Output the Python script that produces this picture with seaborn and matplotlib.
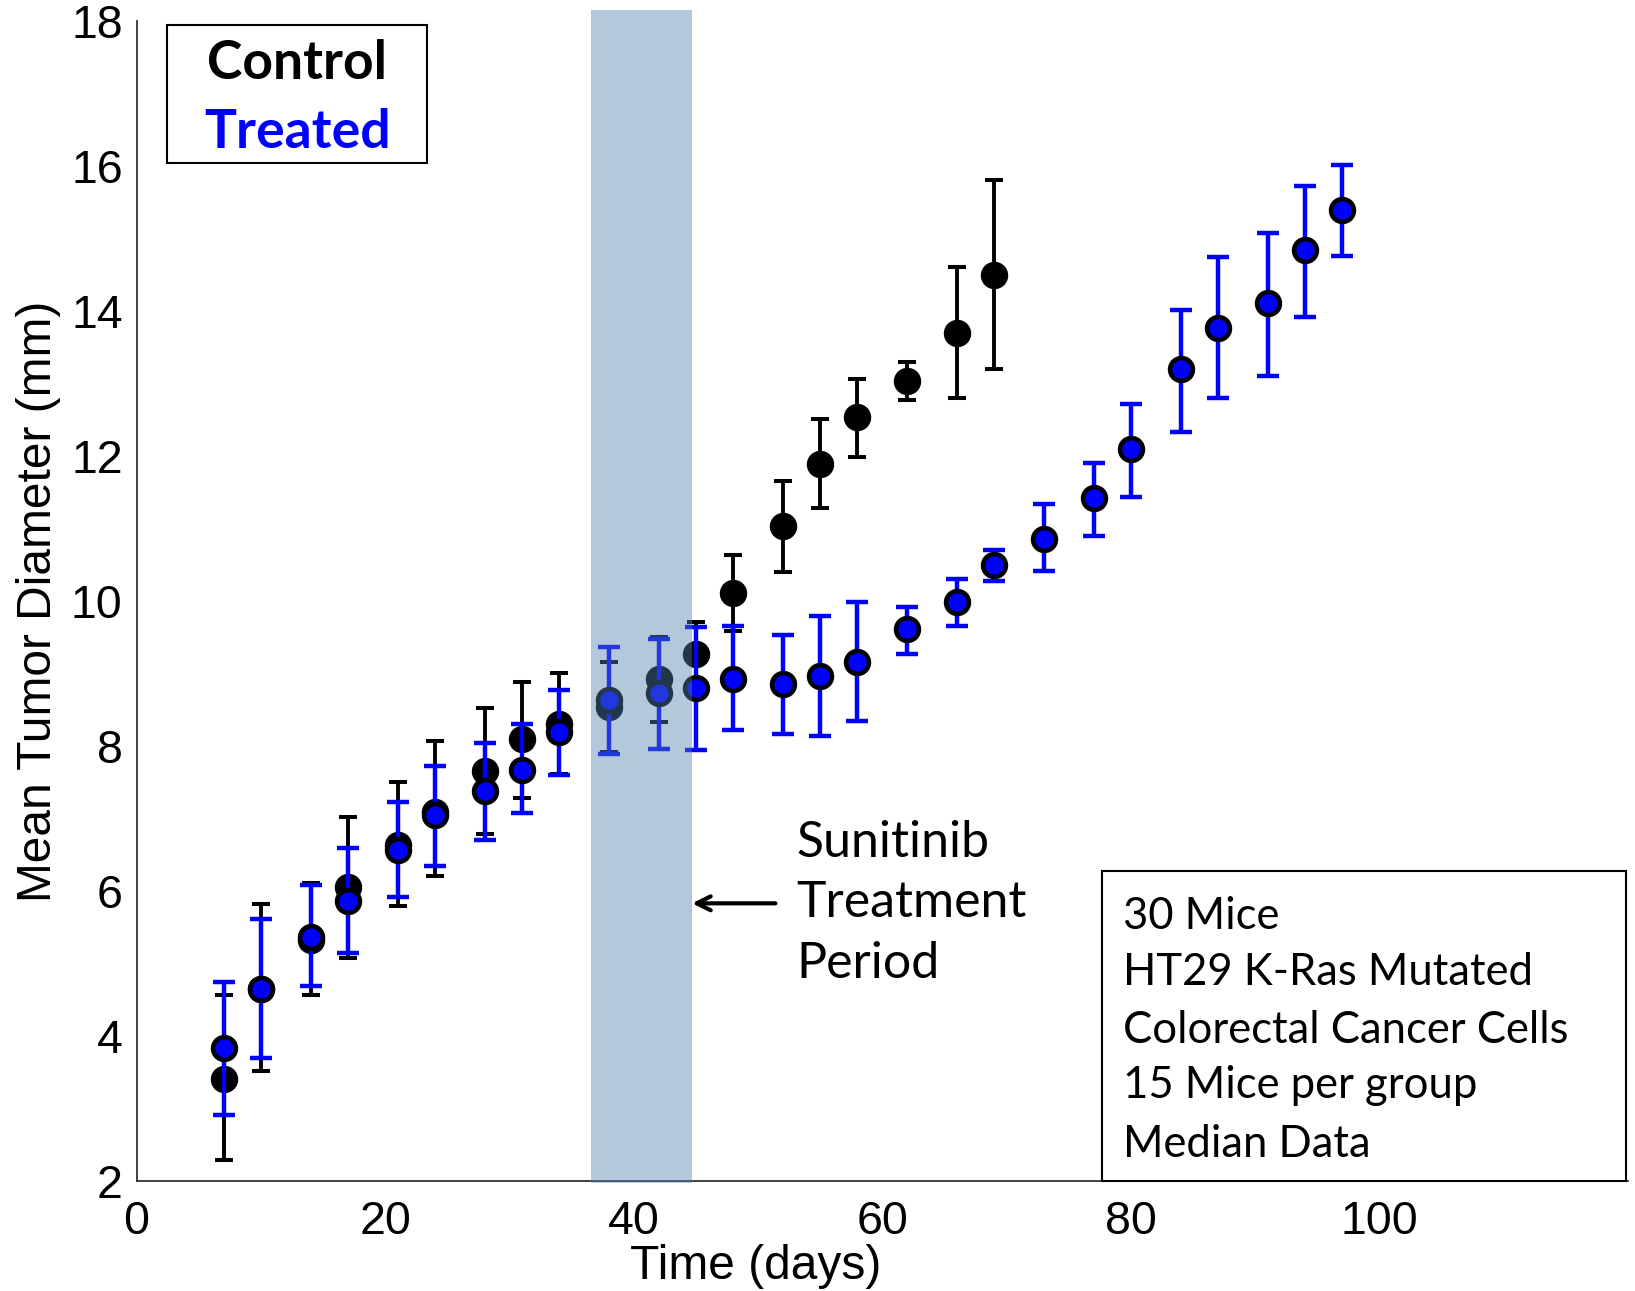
import numpy as np
import pandas as pd
import matplotlib
matplotlib.use("Agg")
import matplotlib.pyplot as plt
import seaborn as sns
from matplotlib.patches import Rectangle

# ---------------- data ----------------
control_days = [7, 10, 14, 17, 21, 24, 28, 31, 34, 38, 42, 45, 48, 52, 55, 58, 62, 66, 69]
control_mean = [3.41, 4.65, 5.32, 6.06, 6.64, 7.09, 7.65, 8.10, 8.31, 8.54, 8.92, 9.27,
                10.11, 11.03, 11.89, 12.54, 13.03, 13.69, 14.50]
control_low = [2.29, 3.52, 4.57, 5.08, 5.79, 6.21, 6.78, 7.28, 7.62, 7.92, 8.33, 8.83,
               9.59, 10.40, 11.28, 11.99, 12.77, 12.80, 13.20]
control_high = [4.56, 5.82, 6.11, 7.02, 7.51, 8.07, 8.53, 8.88, 9.01, 9.16, 9.51, 9.71,
                10.63, 11.65, 12.51, 13.06, 13.30, 14.61, 15.81]

treated_days = [7, 10, 14, 17, 21, 24, 28, 31, 34, 38, 42, 45, 48, 52, 55, 58, 62, 66, 69,
                73, 77, 80, 84, 87, 91, 94, 97]
treated_mean = [3.83, 4.65, 5.37, 5.86, 6.57, 7.05, 7.38, 7.67, 8.20, 8.63, 8.73, 8.80,
                8.93, 8.85, 8.96, 9.16, 9.61, 9.98, 10.50, 10.86, 11.42, 12.09, 13.20,
                13.77, 14.11, 14.84, 15.39]
treated_low = [2.91, 3.70, 4.69, 5.14, 5.92, 6.34, 6.70, 7.07, 7.60, 7.89, 7.96, 7.94,
               8.22, 8.17, 8.14, 8.35, 9.27, 9.66, 10.27, 10.42, 10.89, 11.44, 12.33,
               12.80, 13.11, 13.92, 14.76]
treated_high = [4.74, 5.61, 6.08, 6.60, 7.23, 7.72, 8.04, 8.30, 8.77, 9.37, 9.48, 9.64,
                9.66, 9.53, 9.79, 9.98, 9.92, 10.31, 10.71, 11.34, 11.91, 12.72, 14.02,
                14.74, 15.07, 15.73, 16.01]

treatment_period = [36.6, 44.7]
x_ticks = [0, 20, 40, 60, 80, 100]
y_ticks = [2, 4, 6, 8, 10, 12, 14, 16, 18]
info_lines = ["30 Mice", "HT29 K-Ras Mutated", "Colorectal Cancer Cells",
              "15 Mice per group", "Median Data"]
annot_lines = ["Sunitinib", "Treatment", "Period"]

# ---------------- style ----------------
sns.set_style("white", rc={"text.color": "black", "axes.labelcolor": "black",
                           "xtick.color": "black", "ytick.color": "black"})
plt.rcParams['font.family'] = ['Liberation Sans', 'DejaVu Sans']

W, H = 1635, 1291
fig = plt.figure(figsize=(W / 100, H / 100), dpi=100)
ax = fig.add_axes([136.6 / W, 110 / H, (1628 - 136.6) / W, 1160 / H])

ctrl = pd.DataFrame({"day": control_days, "mean": control_mean,
                     "lo": control_low, "hi": control_high})
trt = pd.DataFrame({"day": treated_days, "mean": treated_mean,
                    "lo": treated_low, "hi": treated_high})

blue = "#0000FF"

# control error bars + markers
ax.errorbar(ctrl["day"], ctrl["mean"],
            yerr=[ctrl["mean"] - ctrl["lo"], ctrl["hi"] - ctrl["mean"]],
            fmt="none", ecolor="black", elinewidth=2.8, capsize=6.2, capthick=2.9, zorder=2)
sns.scatterplot(data=ctrl, x="day", y="mean", ax=ax, color="black", edgecolor="black",
                s=270, linewidth=3.3, zorder=3, legend=False)

# treated error bars + markers
ax.errorbar(trt["day"], trt["mean"],
            yerr=[trt["mean"] - trt["lo"], trt["hi"] - trt["mean"]],
            fmt="none", ecolor=blue, elinewidth=3.2, capsize=7.6, capthick=3.2, zorder=4)
sns.scatterplot(data=trt, x="day", y="mean", ax=ax, color=blue, edgecolor="black",
                s=270, linewidth=3.3, zorder=5, legend=False)

# treatment shading (drawn over the markers)
ax.fill_between(treatment_period, 1.97, 18.15, color="#5180AE", alpha=0.43, lw=0,
                zorder=10, clip_on=False)

# axes
ax.set_xlim(0, 120)
ax.set_ylim(2, 18)
ax.set_xticks(x_ticks)
ax.set_yticks(y_ticks)
for s in ["top", "right"]:
    ax.spines[s].set_visible(False)
for s in ["left", "bottom"]:
    ax.spines[s].set_color("#333333")
    ax.spines[s].set_linewidth(1.3)
ax.tick_params(direction="in", length=9, width=1.0, color="#444444",
               labelsize=33.5, labelcolor="black")
ax.tick_params(axis="x", pad=14)
ax.tick_params(axis="y", pad=10)

ax.set_xlabel("Time (days)", fontsize=34.5, va="center", color="black")
ax.xaxis.set_label_coords(0.415, -0.074)
ax.set_ylabel("Mean Tumor Diameter (mm)", fontsize=34.5, va="center", color="black")
ax.yaxis.set_label_coords(-0.0655, 0.5)

# legend-like box
ax.add_patch(Rectangle((2.44, 16.04), 23.4 - 2.44, 17.945 - 16.04, fill=False,
                       edgecolor="black", lw=1.5, zorder=12))
ax.text(12.92, 17.42, "Control", color="black", fontsize=38.5, fontweight="bold",
        family="Lato", ha="center", va="center", zorder=13)
ax.text(12.95, 16.46, "Treated", color=blue, fontsize=38.5, fontweight="bold",
        family="Lato", ha="center", va="center", zorder=13)

# info box
ax.add_patch(Rectangle((77.7, 2.0), 119.8 - 77.7, 6.27 - 2.0, fill=False,
                       edgecolor="black", lw=1.5, zorder=12, clip_on=False))
info_y = [5.48, 4.70, 3.90, 3.14, 2.33]
for txt, yy in zip(info_lines, info_y):
    ax.text(79.4, yy, txt, fontsize=31.4, family="Lato", ha="left", va="baseline",
            color="black", zorder=13)

# annotation
annot_y = [6.47, 5.64, 4.80]
for txt, yy in zip(annot_lines, annot_y):
    ax.text(53.1, yy, txt, fontsize=36, family="Lato", ha="left", va="baseline",
            color="black", zorder=13)
ax.annotate("", xy=(44.7, 5.83), xytext=(51.4, 5.83),
            arrowprops=dict(arrowstyle="->,head_length=1.0,head_width=0.5",
                            lw=3.0, color="black", shrinkA=0, shrinkB=0), zorder=13)

fig.savefig("out.png", dpi=100)
